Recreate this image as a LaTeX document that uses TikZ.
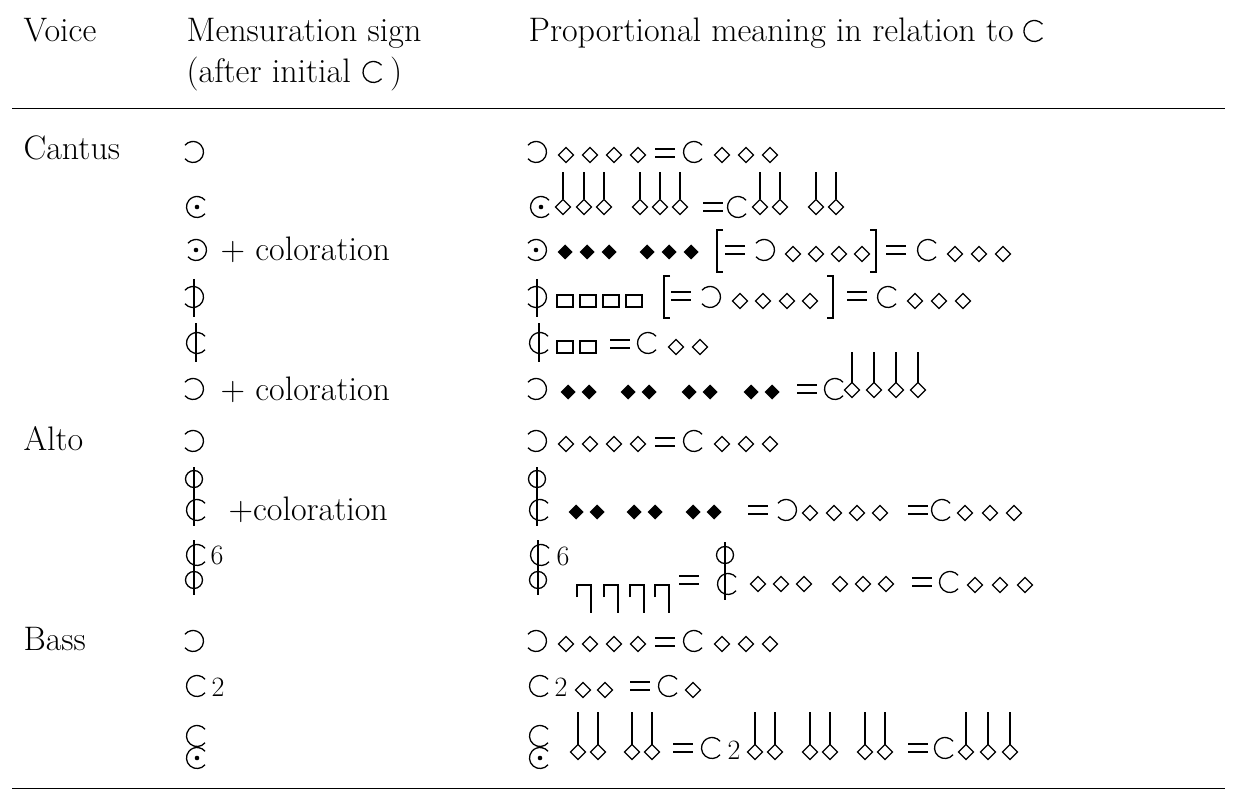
\documentclass[tikz,border=0pt]{standalone}
\begin{document}
\newcommand\mC[2]{\draw (#1,#2) ++(40:10.5) arc[start angle=40,end angle=320,radius=10.5];}
\newcommand\mR[2]{\draw (#1,#2) ++(140:10.5) arc[start angle=140,end angle=-140,radius=10.5];}
\newcommand\mDot[2]{\fill (#1,#2) circle[radius=2.3];}
\newcommand\mStr[3]{\draw (#1,#2)--(#1,#3);}
\newcommand\mO[2]{\draw (#1,#2) circle[radius=8.5];}
\newcommand\dia[2]{\draw (#1-7.5,#2)--(#1,#2-7.5)--(#1+7.5,#2)--(#1,#2+7.5)--cycle;}
\newcommand\fdia[2]{\fill (#1-7.5,#2)--(#1,#2-7.5)--(#1+7.5,#2)--(#1,#2+7.5)--cycle;}
\newcommand\sdia[3]{\dia{#1}{#2}\draw (#1,#2-7.5)--(#1,#3);}
\newcommand\brv[2]{\draw (#1-8,#2-6) rectangle (#1+8,#2+6);}
\newcommand\flg[2]{\draw (#1-7,#2+12)--(#1-7,#2)--(#1+7,#2)--(#1+7,#2+28);}
\newcommand\eqs[2]{\draw (#1-10,#2-4)--(#1+10,#2-4) (#1-10,#2+4)--(#1+10,#2+4);}
\newcommand\lbr[2]{\draw (#1+6,#2-22)--(#1,#2-22)--(#1,#2+20)--(#1+6,#2+20);}
\newcommand\rbr[2]{\draw (#1-6,#2-22)--(#1,#2-22)--(#1,#2+20)--(#1-6,#2+20);}
\begin{tikzpicture}[x=1pt,y=-1pt,line width=1.3pt,
  txt/.style={anchor=base west,inner sep=0pt,font=\fontsize{34}{36}\selectfont},
  sm/.style={anchor=base west,inner sep=0pt,font=\fontsize{28}{30}\selectfont}]
\useasboundingbox (0,0) rectangle (1233,791);
% header
\node[txt] (h1) at (23,42) {Voice};
\node[txt] (h2) at (186,42) {Mensuration sign};
\node[txt] (h3) at (186,83) {(after initial};
\draw ([xshift=22pt,yshift=11pt]h3.base east) ++(40:10.5) arc[start angle=40,end angle=320,radius=10.5];
\node[txt,anchor=base west] (h4) at ([xshift=38pt]h3.base east) {)};
\node[txt] (h5) at (528,42) {Proportional meaning in relation to};
\draw ([xshift=20pt,yshift=11pt]h5.base east) ++(40:10.5) arc[start angle=40,end angle=320,radius=10.5];
\draw[line width=1pt] (12,109)--(1225,109);
\draw[line width=1pt] (12,788)--(1225,788);
% voices
\node[txt] (v1) at (23,160) {Cantus};
\node[txt] (v2) at (23,450) {Alto};
\node[txt] (v3) at (23,650) {Bass};
% col2
\mR{193}{152}
\mC{197}{207}\mDot{197}{207}
\mR{196}{250}\mDot{196}{250}\node[txt] (c3) at (220,261) {+ coloration};
\mR{193}{297}\mStr{194}{279}{317}
\mC{197}{343}\mStr{196}{323}{362}
\mR{193}{389}\node[txt] (c6) at (220,400) {+ coloration};
\mR{193}{441}
\mO{194}{479}\mC{197}{510}\mStr{194}{467}{526}\node[txt] (c8) at (228,520) {+coloration};
\mC{197}{555}\mO{194}{580}\mStr{194}{540}{595}\node[sm] (c9) at (210,564) {6};
\mR{193}{641}
\mC{197}{686}\node[sm] (c11) at (211,696) {2};
\mC{197}{736}\mC{197}{758}\mDot{197}{758}
% col3 row1
\mR{536}{152}\dia{566}{155}\dia{590}{155}\dia{614}{155}\dia{638}{155}\eqs{665}{153}
\mC{694}{152}\dia{722}{155}\dia{746}{155}\dia{770}{155}
% row2
\mC{541}{207}\mDot{541}{207}
\sdia{563}{207}{172}\sdia{584}{207}{172}\sdia{604}{207}{172}
\sdia{640}{207}{172}\sdia{660}{207}{172}\sdia{680}{207}{172}
\eqs{713}{207}\mC{738}{207}\sdia{760}{207}{172}\sdia{780}{207}{172}
\sdia{816}{207}{172}\sdia{836}{207}{172}
% row3
\mR{536}{250}\mDot{536}{250}
\fdia{565}{252}\fdia{587}{252}\fdia{609}{252}\fdia{647}{252}\fdia{669}{252}\fdia{691}{252}
\lbr{717}{252}\eqs{735}{250}\mR{764}{250}
\dia{793}{254}\dia{816}{254}\dia{839}{254}\dia{862}{254}\rbr{876}{252}
\eqs{896}{250}\mC{928}{250}\dia{955}{254}\dia{979}{254}\dia{1003}{254}
% row4
\mR{536}{297}\mStr{537}{279}{317}
\brv{565}{301}\brv{588}{301}\brv{611}{301}\brv{634}{301}
\lbr{664}{298}\eqs{681}{296}\mR{710}{297}
\dia{740}{301}\dia{763}{301}\dia{787}{301}\dia{810}{301}\rbr{833}{298}
\eqs{857}{296}\mC{888}{297}\dia{915}{301}\dia{939}{301}\dia{963}{301}
% row5
\mC{540}{343}\mStr{539}{323}{362}
\brv{565}{347}\brv{588}{347}\eqs{620}{344}\mC{648}{343}\dia{676}{347}\dia{700}{347}
% row6
\mR{536}{389}
\fdia{568}{392}\fdia{589}{392}\fdia{628}{392}\fdia{649}{392}
\fdia{689}{392}\fdia{710}{392}\fdia{751}{392}\fdia{772}{392}
\eqs{807}{389}\mC{835}{389}
\sdia{852}{390}{352}\sdia{874}{390}{352}\sdia{896}{390}{352}\sdia{918}{390}{352}
% alto1
\mR{536}{441}\dia{566}{444}\dia{590}{444}\dia{614}{444}\dia{638}{444}\eqs{665}{442}
\mC{694}{441}\dia{722}{444}\dia{746}{444}\dia{770}{444}
% alto2
\mO{537}{479}\mC{540}{510}\mStr{537}{467}{526}
\fdia{576}{512}\fdia{597}{512}\fdia{634}{512}\fdia{655}{512}\fdia{693}{512}\fdia{714}{512}
\eqs{758}{510}\mR{786}{510}\dia{810}{513}\dia{834}{513}\dia{857}{513}\dia{880}{513}
\eqs{918}{510}\mC{942}{510}\dia{965}{513}\dia{990}{513}\dia{1014}{513}
% alto3
\mC{541}{555}\mO{538}{580}\mStr{538}{540}{595}\node[sm] (r9) at (556,565) {6};
\flg{584}{585}\flg{611}{585}\flg{637}{585}\flg{662}{585}
\eqs{689}{580}\mO{725}{555}\mC{728}{584}\mStr{725}{542}{600}
\dia{758}{584}\dia{781}{584}\dia{804}{584}\dia{840}{584}\dia{863}{584}\dia{886}{584}
\eqs{922}{582}\mC{950}{582}\dia{975}{585}\dia{1000}{585}\dia{1025}{585}
% bass1
\mR{536}{641}\dia{566}{644}\dia{590}{644}\dia{614}{644}\dia{638}{644}\eqs{665}{642}
\mC{694}{641}\dia{722}{644}\dia{746}{644}\dia{770}{644}
% bass2
\mC{540}{686}\node[sm] (r11) at (554,696) {2};
\dia{583}{690}\dia{605}{690}\eqs{640}{686}\mC{669}{686}\dia{693}{690}
% bass3
\mC{540}{736}\mC{540}{758}\mDot{540}{758}
\sdia{578}{752}{712}\sdia{598}{752}{712}\sdia{632}{752}{712}\sdia{652}{752}{712}
\eqs{683}{748}\mC{712}{748}\node[sm] (r12) at (727,759) {2};
\sdia{755}{752}{712}\sdia{775}{752}{712}\sdia{810}{752}{712}\sdia{830}{752}{712}
\sdia{865}{752}{712}\sdia{885}{752}{712}
\eqs{918}{748}\mC{945}{748}\sdia{966}{752}{712}\sdia{988}{752}{712}\sdia{1010}{752}{712}
\end{tikzpicture}
\end{document}
